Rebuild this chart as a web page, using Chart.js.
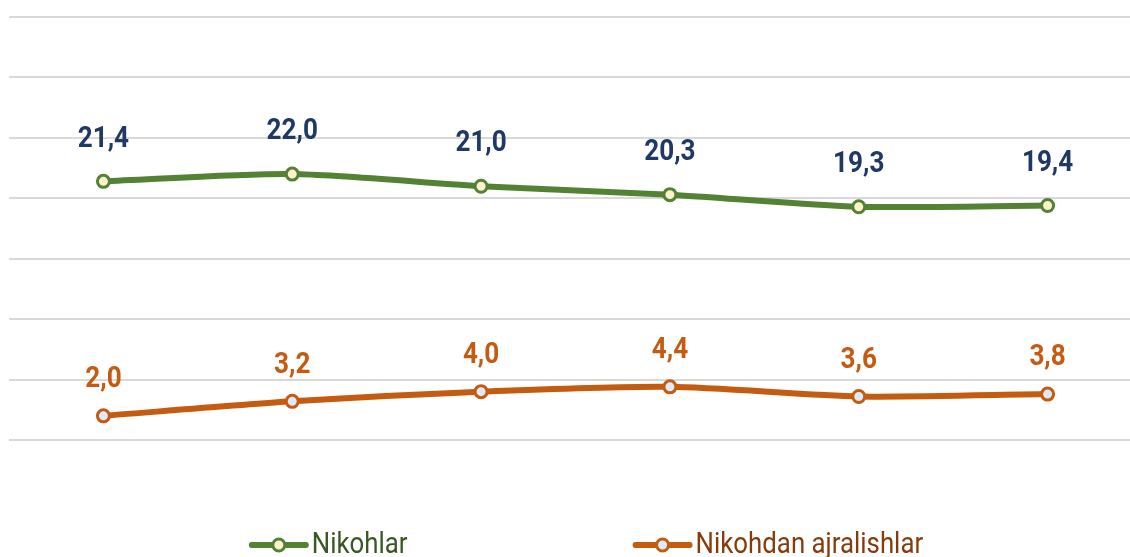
<!DOCTYPE html>
<html>
<head>
<meta charset="utf-8">
<script src="https://cdn.jsdelivr.net/npm/chart.js@4.4.0/dist/chart.umd.min.js"></script>
<style>
  html, body { margin: 0; padding: 0; background: #fff; overflow: hidden; width: 1130px; height: 557px; }
  #c { position: absolute; left: 0; top: 0; }
</style>
</head>
<body>
<canvas id="c" width="1151" height="580"></canvas>
<script>
const categories = ["1", "2", "3", "4", "5", "6"];
const seriesNames = ["Nikohlar", "Nikohdan ajralishlar"];
const nikohlar = [21.4, 22.0, 21.0, 20.3, 19.3, 19.4];
const ajralishlar = [2.0, 3.2, 4.0, 4.4, 3.6, 3.8];
const yTicks = [0, 5, 10, 15, 20, 25, 30, 35];

const FONT = 'Roboto, "Noto Sans", sans-serif';
const LABEL_SCALE = 0.9;
const LEGEND_SCALE = 0.89;

const fmt = v => v.toFixed(1).replace('.', ',');

function drawScaledText(ctx, text, x, y, sx, align) {
  ctx.save();
  ctx.translate(x, y);
  ctx.scale(sx, 1);
  ctx.textAlign = align;
  ctx.fillText(text, 0, 0);
  ctx.restore();
}

const labelPlugin = {
  id: 'valueLabels',
  afterDatasetsDraw(chart) {
    const ctx = chart.ctx;
    chart.data.datasets.forEach((ds, i) => {
      const meta = chart.getDatasetMeta(i);
      ctx.save();
      ctx.font = 'bold 29px ' + FONT;
      ctx.fillStyle = ds.labelColor;
      ctx.textBaseline = 'middle';
      meta.data.forEach((pt, j) => {
        drawScaledText(ctx, fmt(ds.data[j]), pt.x, pt.y - ds.labelOffset, LABEL_SCALE, 'center');
      });
      ctx.restore();
    });
  }
};

const legendPlugin = {
  id: 'customLegend',
  afterDraw(chart) {
    const ctx = chart.ctx;
    const y = 545;
    ctx.save();
    ctx.font = '29px ' + FONT;
    ctx.textBaseline = 'middle';
    const markerW = 60, textGap = 3, itemGap = 225;
    const widths = chart.data.datasets.map(ds => markerW + textGap + ctx.measureText(ds.label).width * LEGEND_SCALE);
    const total = widths.reduce((a, b) => a + b, 0) + itemGap * (widths.length - 1);
    let x = 586 - total / 2;
    chart.data.datasets.forEach((ds, i) => {
      ctx.strokeStyle = ds.borderColor;
      ctx.lineWidth = 6;
      ctx.lineCap = 'round';
      ctx.beginPath();
      ctx.moveTo(x + 3, y);
      ctx.lineTo(x + markerW - 3, y);
      ctx.stroke();
      ctx.beginPath();
      ctx.arc(x + markerW / 2, y, 6, 0, Math.PI * 2);
      ctx.fillStyle = ds.pointBackgroundColor;
      ctx.fill();
      ctx.lineWidth = 3;
      ctx.stroke();
      ctx.fillStyle = ds.legendTextColor;
      drawScaledText(ctx, ds.label, x + markerW + textGap, y + 1, LEGEND_SCALE, 'left');
      x += widths[i] + itemGap;
    });
    ctx.restore();
  }
};

new Chart(document.getElementById('c'), {
  type: 'line',
  data: {
    labels: categories,
    datasets: [
      {
        label: seriesNames[0],
        data: nikohlar,
        borderColor: '#548235',
        borderWidth: 6,
        pointRadius: 6,
        pointBorderWidth: 3,
        pointBackgroundColor: '#FFF2CC',
        pointBorderColor: '#548235',
        tension: 0.25,
        labelColor: '#1F3864',
        labelOffset: 42,
        legendTextColor: '#385723'
      },
      {
        label: seriesNames[1],
        data: ajralishlar,
        borderColor: '#C55A11',
        borderWidth: 6,
        pointRadius: 6,
        pointBorderWidth: 3,
        pointBackgroundColor: '#DEEBF7',
        pointBorderColor: '#C55A11',
        tension: 0.25,
        labelColor: '#C55A11',
        labelOffset: 36,
        legendTextColor: '#843C0C'
      }
    ]
  },
  options: {
    responsive: false,
    animation: false,
    layout: { padding: { left: 8, right: 3, top: 17, bottom: 140 } },
    plugins: { legend: { display: false }, tooltip: { enabled: false } },
    scales: {
      x: { display: false, offset: true },
      y: {
        min: yTicks[0],
        max: yTicks[yTicks.length - 1],
        afterBuildTicks: s => { s.ticks = yTicks.map(v => ({ value: v })); },
        ticks: { display: false },
        border: { display: false },
        grid: { color: '#D9D9D9', lineWidth: 2, drawTicks: false }
      }
    }
  },
  plugins: [labelPlugin, legendPlugin]
});
</script>
</body>
</html>
